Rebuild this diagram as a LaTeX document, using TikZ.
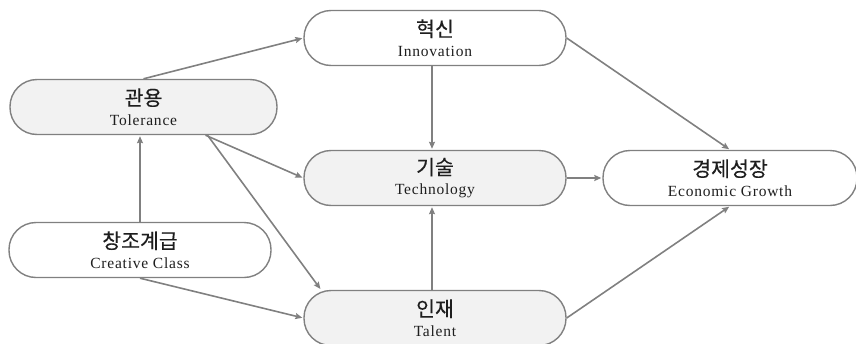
\documentclass[tikz,border=0pt]{standalone}
\usepackage{fontspec}
\setmainfont{Liberation Serif}
\newfontfamily\kr[FakeBold=0.3]{Noto Sans CJK KR}
\usetikzlibrary{arrows.meta}
\definecolor{edgegray}{HTML}{808080}
\definecolor{boxfill}{HTML}{F2F2F2}
\definecolor{inkgray}{HTML}{1E1E1E}
\tikzset{
  pill/.style={draw=edgegray, line width=1.4pt, rounded corners=27pt,
    minimum width=262pt, minimum height=55pt, align=center, inner sep=0pt,
    text=inkgray, font=\fontsize{15.5}{20}\selectfont},
  shaded/.style={pill, fill=boxfill},
  plain/.style={pill, fill=white},
  link/.style={draw=edgegray, line width=1.6pt,
    -{Stealth[length=7pt,width=6pt,inset=1pt]}, shorten >=1pt}
}
\newcommand{\pilltext}[2]{{\kr\fontsize{20.5}{20}\selectfont #1}\\{\addfontfeature{LetterSpace=5}#2}}
\begin{document}
\begin{tikzpicture}[x=1pt,y=-1pt]
  \useasboundingbox (0,0) rectangle (856,343);
  % nodes
  \node[shaded, minimum width=267pt] (tol) at (143.5,107) {\pilltext{관용}{Tolerance}};
  \node[plain] (cre) at (140,250) {\pilltext{창조계급}{Creative Class}};
  \node[plain] (inn) at (435,38) {\pilltext{혁신}{Innovation}};
  \node[shaded] (tec) at (435,178) {\pilltext{기술}{Technology}};
  \node[shaded] (tal) at (435,318) {\pilltext{인재}{Talent}};
  \node[plain, minimum width=254pt] (eco) at (730,178) {\pilltext{경제성장}{Economic Growth}};
  % connectors
  \draw[link] (tol.north) -- (inn.west);
  \draw[link] (cre.north) -- (cre.north |- tol.south);
  \draw[link] ([xshift=62pt]tol.south) -- (tec.west);
  \draw[link] ([xshift=64pt]tol.south) -- ([xshift=-114pt]tal.north);
  \draw[link] (cre.south) -- (tal.west);
  \draw[link] ([xshift=-3pt]inn.south) -- ([xshift=-3pt]tec.north);
  \draw[link] ([xshift=-3pt]tal.north) -- ([xshift=-3pt]tec.south);
  \draw[link] (tec.east) -- (eco.west);
  \draw[link] (inn.east) -- (eco.north);
  \draw[link] (tal.east) -- (eco.south);
\end{tikzpicture}
\end{document}
